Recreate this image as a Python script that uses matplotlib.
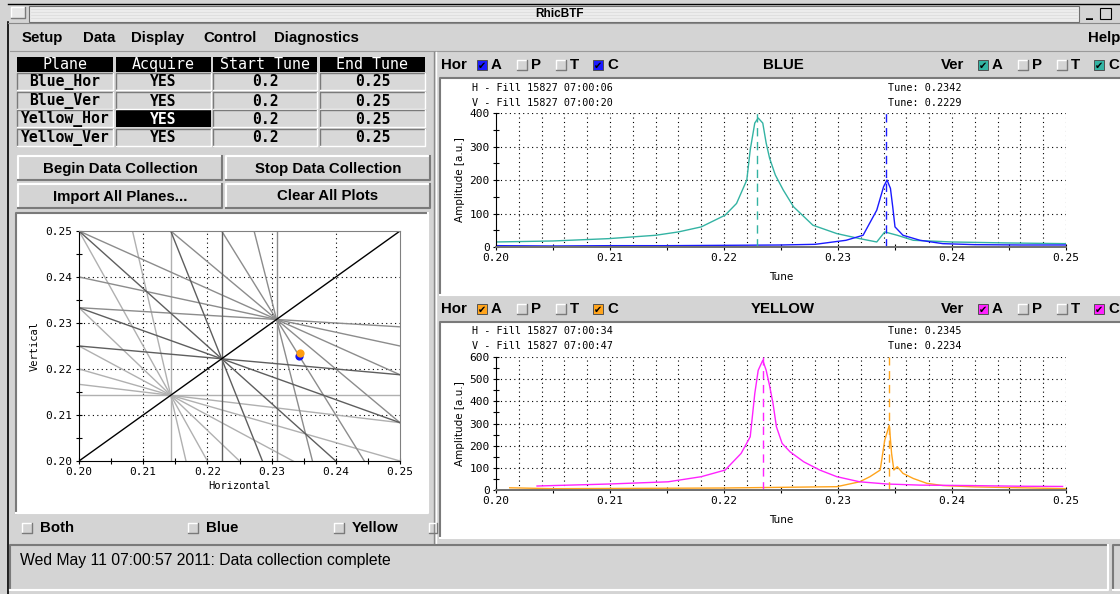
import numpy as np
import matplotlib
matplotlib.use("Agg")
import matplotlib.pyplot as plt
from matplotlib.patches import Rectangle
from matplotlib.ticker import MultipleLocator, FormatStrFormatter

W, H = 1120, 594
GRAY = '#d4d4d4'
PX = 0.72  # one pixel in points at dpi 100

# ---- table data
table_header = ['Plane', 'Acquire', 'Start Tune', 'End Tune']
planes = ['Blue_Hor', 'Blue_Ver', 'Yellow_Hor', 'Yellow_Ver']
acquire = ['YES', 'YES', 'YES', 'YES']
start_tune = ['0.2', '0.2', '0.2', '0.2']
end_tune = ['0.25', '0.25', '0.25', '0.25']

menu_items = ['Setup', 'Data', 'Display', 'Control', 'Diagnostics']
buttons = ['Begin Data Collection', 'Stop Data Collection',
           'Import All Planes...', 'Clear All Plots']

# ---- measured tunes
blue_h_tune, blue_v_tune = 0.2342, 0.2229
yellow_h_tune, yellow_v_tune = 0.2345, 0.2234

# ---- BTF spectra
bh_tune = [0.200, 0.205, 0.210, 0.215, 0.220, 0.225, 0.228, 0.2307, 0.2322,
           0.2334, 0.2340, 0.2343, 0.2346, 0.2348, 0.2350, 0.2357, 0.2372,
           0.2392, 0.242, 0.246, 0.250]
bh_amp = [4, 3, 4, 4, 5, 6, 8, 20, 35, 110, 180, 200, 175, 120, 60, 35, 20,
          10, 7, 6, 6]

bv_tune = [0.200, 0.205, 0.2099, 0.2140, 0.2160, 0.2180, 0.2201, 0.2211,
           0.2220, 0.2223, 0.2227, 0.2230, 0.2234, 0.2237, 0.2240, 0.2245,
           0.2252, 0.2261, 0.2278, 0.2299, 0.2319, 0.2334, 0.2341, 0.2352,
           0.2366, 0.240, 0.245, 0.250]
bv_amp = [15, 18, 25, 35, 45, 60, 95, 130, 200, 290, 370, 385, 370, 310, 265,
          215, 170, 120, 65, 40, 25, 15, 45, 35, 20, 15, 12, 10]

yv_tune = [0.2036, 0.2099, 0.2151, 0.2180, 0.2201, 0.2215, 0.2223, 0.2227,
           0.2230, 0.2234, 0.2237, 0.2240, 0.2243, 0.2246, 0.2251, 0.2258,
           0.2270, 0.2284, 0.2299, 0.2319, 0.2343, 0.2372, 0.2416, 0.2460,
           0.2497]
yv_amp = [18, 27, 37, 60, 90, 165, 240, 435, 540, 585, 540, 470, 390, 285,
          210, 172, 127, 90, 60, 37, 27, 22, 20, 17, 16]

yh_tune = [0.2012, 0.205, 0.210, 0.215, 0.220, 0.225, 0.2299, 0.2319, 0.2328,
           0.2337, 0.2341, 0.2345, 0.2347, 0.2349, 0.2352, 0.2357, 0.2366,
           0.2378, 0.2392, 0.242, 0.246, 0.250]
yh_amp = [10, 6, 7, 8, 9, 12, 15, 37, 60, 90, 225, 292, 165, 90, 105, 75, 52,
          30, 20, 14, 10, 6]

# resonance nodes on the diagonal: (order, p, gray); only even n is drawn
res_nodes = [(14, 3, '#b0b0b0'), (13, 3, '#8c8c8c'), (9, 2, '#5e5e5e')]

C_BLUE = '#1a1aff'
C_TEAL = '#33b3a3'
C_MAG = '#ff22ff'
C_ORA = '#ffa41c'

fig = plt.figure(figsize=(W / 100, H / 100), dpi=100, facecolor=GRAY)
ui = fig.add_axes([0, 0, 1, 1])
ui.set_xlim(0, W)
ui.set_ylim(H, 0)
ui.axis('off')


def px_axes(l, t, r, b):
    return fig.add_axes([l / W, 1 - b / H, (r - l) / W, (b - t) / H])


def bevel(x0, y0, x1, y1, raised=True, face=GRAY, lw=1.0):
    ui.add_patch(Rectangle((x0, y0), x1 - x0, y1 - y0, fc=face, ec='none'))
    light, dark = ('white', '#7a7a7a') if raised else ('#7a7a7a', 'white')
    ui.plot([x0, x0, x1], [y1, y0, y0], color=light, lw=lw * PX * 1.4)
    ui.plot([x0, x1, x1], [y1, y1, y0], color=dark, lw=lw * PX * 1.4)


def checkbox(x, y, color=None, s=10):
    if color:
        ui.add_patch(Rectangle((x, y), s, s, fc=color, ec='#505050', lw=0.7))
        ui.text(x + s / 2, y + s / 2 + 0.5, '\u2714', fontsize=7, ha='center',
                va='center', color='black', family='DejaVu Sans')
    else:
        bevel(x, y, x + s, y + s, raised=True)


sans = 'Liberation Sans'
mono = 'DejaVu Sans Mono'
GUI_FS = 10.8

# ---- title bar
ui.plot([8, W], [4, 4], color='black', lw=1)
bevel(11, 7, 25, 18, raised=True, face='#e8e8e8')
ui.add_patch(Rectangle((29, 6), 1050, 16, fc='#ececec', ec='#707070', lw=0.8))
for yy in [9, 12, 15, 18]:
    ui.plot([31, 1077], [yy, yy], color='#dadada', lw=0.5)
ui.text(560, 14, 'RhicBTF', fontsize=8.5, fontweight='bold', ha='center',
        va='center', family=sans)
ui.text(1090, 13, '_', fontsize=10, fontweight='bold', ha='center', va='center')
ui.add_patch(Rectangle((1100, 8), 11, 11, fc='none', ec='black', lw=0.8))

# window frame
ui.plot([8, 8], [22, H], color='black', lw=1.2)
ui.plot([8, W], [23, 23], color='#888888', lw=0.8)

# ---- menu
menu_x = [22, 83, 131, 203, 274]
for name, mx in zip(menu_items, menu_x):
    ui.text(mx, 38, name, fontsize=GUI_FS, fontweight='bold', ha='left',
            va='center', family=sans)
ui.text(1088, 38, 'Help', fontsize=GUI_FS, fontweight='bold', ha='left',
        va='center', family=sans)
ui.plot([10, W], [51, 51], color='#9a9a9a', lw=0.8)

# pane separator
ui.plot([434, 434], [52, 543], color='#8a8a8a', lw=1)
ui.plot([436, 436], [52, 543], color='white', lw=1)

# ---- table
col_x = [(17, 113), (116, 211), (213, 317), (320, 425)]
row_y = [(73, 90), (92, 109), (110, 127), (129, 146)]
for (x0, x1), name in zip(col_x, table_header):
    ui.add_patch(Rectangle((x0, 57), x1 - x0, 15, fc='black', ec='none'))
    ui.text((x0 + x1) / 2, 64.5, name, color='white', fontsize=10.8,
            ha='center', va='center', family=mono)
columns = [planes, acquire, start_tune, end_tune]
for c, ((x0, x1), col) in enumerate(zip(col_x, columns)):
    for r, ((y0, y1), txt) in enumerate(zip(row_y, col)):
        selected = (c == 1 and r == 2)
        if selected:
            ui.add_patch(Rectangle((x0, y0), x1 - x0, y1 - y0, fc='black',
                                   ec='none'))
        else:
            bevel(x0, y0, x1, y1, raised=False, face='#d8d8d8')
        ui.text((x0 + x1) / 2, (y0 + y1) / 2 + 0.5, txt, fontsize=10.6,
                fontweight='bold', ha='center', va='center', family=mono,
                color='white' if selected else 'black')

# ---- buttons
btn_boxes = [(18, 156, 222, 180), (226, 156, 430, 180),
             (18, 184, 222, 208), (226, 184, 430, 208)]
for (x0, y0, x1, y1), label in zip(btn_boxes, buttons):
    bevel(x0, y0, x1, y1, raised=True, lw=1.5)
    ui.text((x0 + x1) / 2, (y0 + y1) / 2 + 0.5, label, fontsize=GUI_FS,
            fontweight='bold', ha='center', va='center', family=sans)

# ---- tune diagram panel
bevel(16, 213, 428, 513, raised=False, face='white', lw=1.5)
ax_t = px_axes(79, 231, 400, 461)
ax_t.set_xlim(0.20, 0.25)
ax_t.set_ylim(0.20, 0.25)
xs = np.array([0.20, 0.25])
for order, p, shade in res_nodes:
    for n in range(0, order + 1, 2):
        m = order - n
        if n == 0:
            ax_t.axvline(p / m, color=shade, lw=1.0)
        elif m == 0:
            ax_t.axhline(p / n, color=shade, lw=1.0)
        else:
            ax_t.plot(xs, (p - m * xs) / n, color=shade, lw=1.0)
ax_t.plot(xs, xs, color='black', lw=1.0)
ax_t.scatter([blue_h_tune], [blue_v_tune], s=24, color='#1010ee', zorder=5)
ax_t.scatter([yellow_h_tune], [yellow_v_tune], s=24, color='#ff9e10',
             zorder=6)
for v in [0.21, 0.22, 0.23, 0.24]:
    ax_t.axvline(v, color='black', lw=0.8, ls=(0, (1, 3)), zorder=0.5)
    ax_t.axhline(v, color='black', lw=0.8, ls=(0, (1, 3)), zorder=0.5)
for ax_ in [ax_t.xaxis, ax_t.yaxis]:
    ax_.set_major_locator(MultipleLocator(0.01))
    ax_.set_minor_locator(MultipleLocator(0.005))
    ax_.set_major_formatter(FormatStrFormatter('%.2f'))
ax_t.tick_params(which='both', direction='inout', length=5, width=0.8,
                 labelsize=8, pad=2)
for lab in ax_t.get_xticklabels() + ax_t.get_yticklabels():
    lab.set_family(mono)
for s in ['top', 'right']:
    ax_t.spines[s].set_color('#808080')
ax_t.set_xlabel('Horizontal', fontsize=7.5, family=mono, labelpad=3)
ax_t.set_ylabel('Vertical', fontsize=7.5, family=mono, labelpad=4)

# ---- bottom checkboxes
for bx, lab in [(22, 'Both'), (188, 'Blue'), (334, 'Yellow')]:
    checkbox(bx, 523)
    ui.text(bx + 18, 528.5, lab, fontsize=GUI_FS, fontweight='bold',
            ha='left', va='center', family=sans)
bevel(429, 523, 437, 533, raised=True)

# ---- status bar
bevel(10, 545, 1108, 590, raised=False, lw=1.5)
ui.text(20, 561, 'Wed May 11 07:00:57 2011: Data collection complete',
        fontsize=11.3, ha='left', va='center', family=sans)
bevel(1113, 545, 1125, 590, raised=False, lw=1.5)


# ---- right hand plots
def header(yc, title, hor_color, ver_color):
    ui.text(441, yc, 'Hor', fontsize=GUI_FS, fontweight='bold', ha='left',
            va='center', family=sans)
    ui.text(941, yc, 'Ver', fontsize=GUI_FS, fontweight='bold', ha='left',
            va='center', family=sans)
    for base, col in [(477, hor_color), (978, ver_color)]:
        offs = [0, 40, 79, 116]
        for off, letter in zip(offs, ['A', 'P', 'T', 'C']):
            filled = letter in ('A', 'C')
            checkbox(base + off, yc - 5, col if filled else None)
            ui.text(base + off + 14, yc, letter, fontsize=GUI_FS,
                    fontweight='bold', ha='left', va='center', family=sans)
    ui.text(783, yc, title, fontsize=GUI_FS, fontweight='bold', ha='center',
            va='center', family=sans)


def spectrum_axes(box, ymax, ystep):
    ax = px_axes(*box)
    ax.set_xlim(0.20, 0.25)
    ax.set_ylim(0, ymax)
    for v in np.arange(0.202, 0.2501, 0.002):
        ax.axvline(v, color='black', lw=0.8, ls=(0, (1, 3)), zorder=0.5)
    for v in np.arange(ystep, ymax + 1, ystep):
        ax.axhline(v, color='black', lw=0.8, ls=(0, (1, 3)), zorder=0.5)
    ax.xaxis.set_major_locator(MultipleLocator(0.01))
    ax.xaxis.set_minor_locator(MultipleLocator(0.005))
    ax.xaxis.set_major_formatter(FormatStrFormatter('%.2f'))
    ax.yaxis.set_major_locator(MultipleLocator(ystep))
    ax.yaxis.set_minor_locator(MultipleLocator(ystep / 2))
    ax.tick_params(which='both', direction='inout', length=5, width=0.8,
                   labelsize=8, pad=2)
    for lab in ax.get_xticklabels() + ax.get_yticklabels():
        lab.set_family(mono)
    ax.spines['top'].set_visible(False)
    ax.spines['right'].set_visible(False)
    ax.spines['bottom'].set_color('#707070')
    ax.spines['bottom'].set_linewidth(1.4)
    ax.set_xlabel('Tune', fontsize=7.5, labelpad=6)
    ax.set_ylabel('Amplitude [a.u.]', fontsize=7.5, labelpad=3)
    return ax


# BLUE
header(65, 'BLUE', C_BLUE, C_TEAL)
bevel(440, 78, 1125, 295, raised=False, face='white', lw=1.5)
ui.text(472, 88, 'H - Fill 15827 07:00:06', fontsize=7.3, family=mono,
        ha='left', va='center')
ui.text(472, 103, 'V - Fill 15827 07:00:20', fontsize=7.3, family=mono,
        ha='left', va='center')
ui.text(888, 88, 'Tune: %.4f' % blue_h_tune, fontsize=7.3, family=mono,
        ha='left', va='center')
ui.text(888, 103, 'Tune: %.4f' % blue_v_tune, fontsize=7.3, family=mono,
        ha='left', va='center')
ax_b = spectrum_axes((496, 113, 1066, 247), 400, 100)
ax_b.plot(bv_tune, bv_amp, color=C_TEAL, lw=1.0)
ax_b.plot(bh_tune, bh_amp, color=C_BLUE, lw=1.0)
ax_b.axvline(blue_v_tune, color=C_TEAL, lw=1.0, ls=(0, (6, 4)))
ax_b.axvline(blue_h_tune, color=C_BLUE, lw=1.0, ls=(0, (6, 4)))

# YELLOW
header(309, 'YELLOW', C_ORA, C_MAG)
bevel(440, 322, 1125, 538, raised=False, face='white', lw=1.5)
ui.text(472, 331, 'H - Fill 15827 07:00:34', fontsize=7.3, family=mono,
        ha='left', va='center')
ui.text(472, 346, 'V - Fill 15827 07:00:47', fontsize=7.3, family=mono,
        ha='left', va='center')
ui.text(888, 331, 'Tune: %.4f' % yellow_h_tune, fontsize=7.3, family=mono,
        ha='left', va='center')
ui.text(888, 346, 'Tune: %.4f' % yellow_v_tune, fontsize=7.3, family=mono,
        ha='left', va='center')
ax_y = spectrum_axes((496, 357, 1066, 490), 600, 100)
ax_y.plot(yh_tune, yh_amp, color=C_ORA, lw=1.0)
ax_y.plot(yv_tune, yv_amp, color=C_MAG, lw=1.0)
ax_y.axvline(yellow_v_tune, color=C_MAG, lw=1.0, ls=(0, (6, 4)))
ax_y.axvline(yellow_h_tune, color=C_ORA, lw=1.0, ls=(0, (6, 4)))

fig.savefig('out.png', dpi=100, facecolor=GRAY)
